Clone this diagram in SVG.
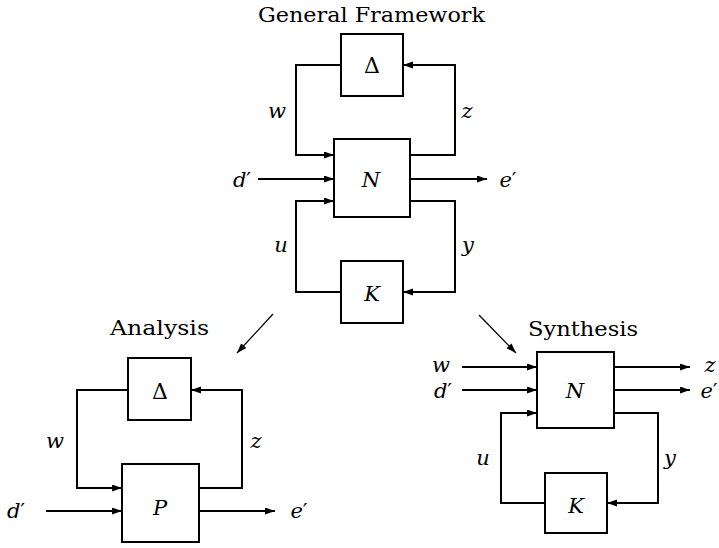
<svg xmlns="http://www.w3.org/2000/svg" width="719" height="548" viewBox="0 0 719 548">
<style>
.box{fill:#fff;stroke:#000;stroke-width:2}
.ln{fill:none;stroke:#000;stroke-width:2}
.dg{fill:none;stroke:#000;stroke-width:1.3}
text{font-family:'DejaVu Serif','Times New Roman',serif}
.m{font-style:italic;font-size:21px;text-anchor:middle}
.p{font-style:normal}
.g{font-size:22px;text-anchor:middle}
.t{font-size:20px}
</style>
<defs>
<marker id="a" markerUnits="userSpaceOnUse" markerWidth="11" markerHeight="8" refX="10" refY="3.5" orient="auto"><path d="M0,0 L10,3.5 L0,7 z" fill="#000"/></marker>
<marker id="b" markerUnits="userSpaceOnUse" markerWidth="11" markerHeight="8" refX="10" refY="3.5" orient="auto"><path d="M0,0 L10,3.5 L0,7 z" fill="#000"/></marker>
</defs>
<g id="connectors">
<path class="ln" d="M341,65 H296 V155 H334" marker-end="url(#a)"/>
<path class="ln" d="M258,179 H334" marker-end="url(#a)"/>
<path class="ln" d="M341,292 H296 V201 H334" marker-end="url(#a)"/>
<path class="ln" d="M410,155 H455 V65 H403" marker-end="url(#a)"/>
<path class="ln" d="M410,179 H487" marker-end="url(#a)"/>
<path class="ln" d="M410,201 H455 V292 H403" marker-end="url(#a)"/>
<path class="ln" d="M128,390 H77 V488 H122" marker-end="url(#a)"/>
<path class="ln" d="M46,511 H122" marker-end="url(#a)"/>
<path class="ln" d="M199,488 H242 V390 H191" marker-end="url(#a)"/>
<path class="ln" d="M199,511 H275" marker-end="url(#a)"/>
<path class="ln" d="M462,367 H537" marker-end="url(#a)"/>
<path class="ln" d="M462,390 H537" marker-end="url(#a)"/>
<path class="ln" d="M545,503 H501 V413 H537" marker-end="url(#a)"/>
<path class="ln" d="M614,367 H690" marker-end="url(#a)"/>
<path class="ln" d="M614,390 H690" marker-end="url(#a)"/>
<path class="ln" d="M614,413 H658 V503 H607" marker-end="url(#a)"/>
<path class="dg" d="M273,314 L237,353" marker-end="url(#b)"/>
<path class="dg" d="M479,315 L516,353" marker-end="url(#b)"/>
</g>
<g id="title"><text class="t" x="258" y="22" textLength="227" lengthAdjust="spacingAndGlyphs">General Framework</text></g>
<g id="top-delta"><rect class="box" x="341" y="34" width="62" height="62"/><text class="g" x="372" y="73">Δ</text></g>
<g id="top-N"><rect class="box" x="334" y="139" width="76" height="78"/><text class="m" x="371" y="187">N</text></g>
<g id="top-K"><rect class="box" x="341" y="261" width="62" height="62"/><text class="m" x="372" y="301">K</text></g>
<g id="top-labels">
<text class="m" x="277" y="118">w</text>
<text class="m" x="467" y="118">z</text>
<text class="m" x="281" y="252">u</text>
<text class="m" x="468" y="252">y</text>
<text class="m" x="242" y="187">d<tspan class="p">′</tspan></text>
<text class="m" x="508" y="187">e<tspan class="p">′</tspan></text>
</g>
<g id="analysis-title"><text class="t" x="110" y="335" textLength="99" lengthAdjust="spacingAndGlyphs">Analysis</text></g>
<g id="an-delta"><rect class="box" x="128" y="358" width="63" height="62"/><text class="g" x="160" y="399">Δ</text></g>
<g id="an-P"><rect class="box" x="122" y="464" width="77" height="78"/><text class="m" x="160" y="515">P</text></g>
<g id="an-labels">
<text class="m" x="55" y="448">w</text>
<text class="m" x="256" y="448">z</text>
<text class="m" x="16" y="518">d<tspan class="p">′</tspan></text>
<text class="m" x="299" y="518">e<tspan class="p">′</tspan></text>
</g>
<g id="synthesis-title"><text class="t" x="528" y="336" textLength="110" lengthAdjust="spacingAndGlyphs">Synthesis</text></g>
<g id="sy-N"><rect class="box" x="537" y="352" width="77" height="76"/><text class="m" x="575" y="398">N</text></g>
<g id="sy-K"><rect class="box" x="545" y="473" width="62" height="60"/><text class="m" x="576" y="513">K</text></g>
<g id="sy-labels">
<text class="m" x="441" y="372">w</text>
<text class="m" x="443" y="398">d<tspan class="p">′</tspan></text>
<text class="m" x="483" y="465">u</text>
<text class="m" x="670" y="465">y</text>
<text class="m" x="710" y="372">z</text>
<text class="m" x="709" y="398">e<tspan class="p">′</tspan></text>
</g>
</svg>
